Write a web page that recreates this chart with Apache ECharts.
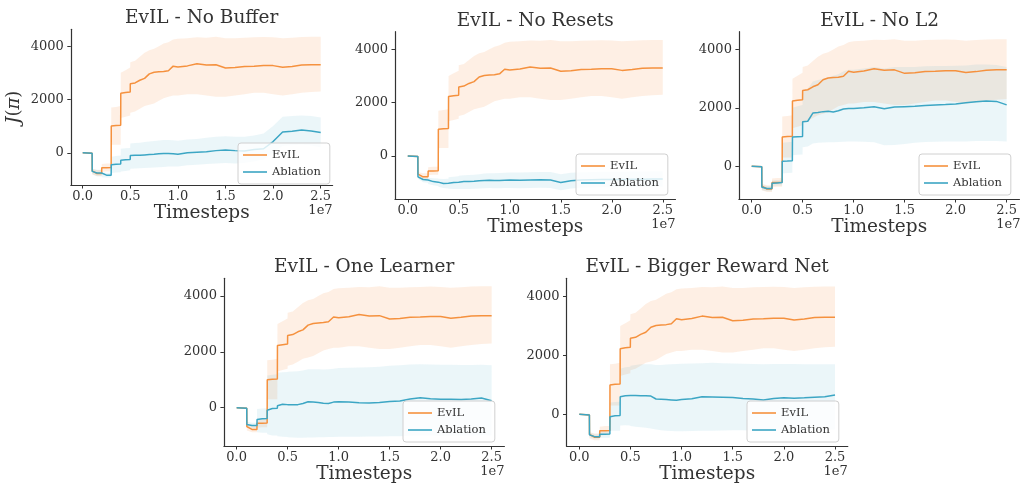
<!DOCTYPE html>
<html>
<head>
<meta charset="utf-8">
<script src="https://cdn.jsdelivr.net/npm/echarts@6/dist/echarts.min.js"></script>
<style>
html,body{margin:0;padding:0;background:#fff;}
#c{width:1020px;height:487px;}
</style>
</head>
<body>
<div id="c"></div>
<script>
// ---- data (timesteps in units of 1e7) ----
const T = [0,0.099,0.1,0.15,0.199,0.2,0.25,0.299,0.3,0.35,0.399,0.4,0.45,0.499,0.5,
  0.55,0.6,0.65,0.7,0.75,0.8,0.85,0.9,0.95,1.0,
  1.1,1.2,1.3,1.4,1.5,1.6,1.7,1.8,1.9,2.0,2.1,2.2,2.3,2.4,2.5];

const EVIL_MEAN = [0,-20,-680,-780,-780,-560,-560,-550,1000,1020,1030,2230,2260,2280,2590,
  2620,2720,2790,2960,3020,3040,3050,3080,3250,3220,
  3260,3340,3290,3300,3180,3200,3240,3250,3270,3270,3210,3240,3290,3300,3300];
const EVIL_LO = [0,-20,-820,-880,-880,-720,-700,-700,300,300,300,1300,1350,1400,1500,
  1550,1650,1750,1800,1850,1950,2050,2100,2150,2150,
  2200,2200,2150,2100,2100,2150,2200,2250,2250,2200,2150,2200,2250,2280,2300];
const EVIL_HI = [0,20,-600,-650,-650,-420,-400,-400,1700,1720,1750,3000,3100,3200,3400,
  3450,3600,3750,3850,3900,4000,4100,4150,4250,4280,
  4300,4330,4320,4350,4300,4300,4320,4330,4340,4330,4300,4320,4340,4350,4350];

// No Buffer
const NB_MEAN = [0,-20,-700,-760,-760,-830,-840,-840,-450,-430,-420,-280,-260,-250,-100,
  -90,-90,-80,-70,-60,-40,-30,-30,-40,-60,
  0,20,40,80,100,80,70,120,150,420,780,810,850,820,760];
const NB_LO = [0,-20,-800,-880,-880,-920,-930,-930,-760,-740,-730,-700,-680,-660,-600,
  -590,-580,-570,-560,-550,-540,-530,-520,-520,-520,
  -470,-450,-420,-400,-380,-400,-380,-330,-250,0,250,280,300,270,200];
const NB_HI = [0,20,-600,-640,-640,-740,-750,-750,-150,-120,-100,150,170,180,350,
  370,380,400,420,440,460,480,480,470,450,
  500,520,560,600,620,600,600,650,720,1000,1350,1380,1400,1380,1320];

// No Resets
const NR_MEAN = [0,-20,-780,-880,-900,-930,-960,-980,-1000,-1030,-1020,-1000,-990,-980,-970,
  -960,-960,-950,-930,-920,-910,-920,-920,-910,-900,
  -910,-900,-890,-900,-990,-930,-900,-890,-880,-880,-880,-870,-870,-860,-860];
const NR_LO = [0,-20,-850,-980,-1000,-1050,-1100,-1120,-1150,-1200,-1220,-1230,-1240,-1240,-1240,
  -1240,-1240,-1230,-1220,-1210,-1200,-1210,-1210,-1200,-1200,
  -1210,-1200,-1190,-1200,-1280,-1220,-1190,-1180,-1170,-1170,-1170,-1160,-1160,-1150,-1150];
const NR_HI = [0,20,-720,-800,-810,-820,-830,-840,-850,-860,-850,-800,-780,-760,-740,
  -720,-710,-700,-680,-660,-650,-650,-640,-630,-620,
  -620,-610,-600,-600,-680,-630,-610,-600,-590,-590,-590,-580,-580,-570,-570];

// No L2
const NL_MEAN = [0,-20,-720,-760,-760,-580,-570,-560,170,180,190,1000,1010,1020,1520,
  1540,1820,1840,1870,1880,1860,1900,1960,1980,1980,
  2000,2040,1970,2030,2040,2050,2080,2100,2110,2130,2170,2210,2230,2220,2100];
const NL_LO = [0,-20,-820,-860,-860,-680,-670,-660,-250,-230,-220,380,390,400,650,
  680,780,800,810,820,820,830,840,850,850,
  840,820,720,730,760,800,830,840,850,850,850,860,860,860,850];
const NL_HI = [0,20,-640,-680,-680,-480,-470,-460,800,820,840,2000,2050,2100,2600,
  2650,2900,2950,3000,3050,3100,3150,3250,3300,3300,
  3350,3400,3350,3400,3400,3400,3420,3430,3430,3440,3450,3480,3480,3470,3400];

// One Learner
const OL_MEAN = [0,-20,-600,-640,-640,-420,-400,-390,-90,-30,-20,70,120,110,100,
  110,110,150,210,200,190,160,150,200,210,
  200,180,170,190,220,240,310,360,320,300,300,290,310,350,250];
const OL_LO = [0,-20,-700,-740,-740,-880,-900,-900,-950,-1000,-1000,-1020,-1040,-1050,-1060,
  -1070,-1080,-1080,-1070,-1070,-1060,-1060,-1050,-1050,-1040,
  -1040,-1040,-1030,-1030,-1020,-1020,-1010,-1000,-1000,-1010,-1010,-1000,-1000,-990,-1000];
const OL_HI = [0,20,-500,-540,-540,-50,-30,-20,1150,1180,1200,1250,1270,1280,1290,
  1300,1310,1330,1380,1380,1380,1370,1380,1400,1420,
  1430,1440,1450,1470,1500,1520,1550,1560,1550,1540,1540,1530,1530,1540,1520];

// Bigger Reward Net
const BR_MEAN = [0,-20,-700,-760,-760,-680,-680,-670,-80,-50,-40,600,630,640,640,
  640,630,630,620,520,510,500,490,480,500,
  530,600,590,580,570,540,520,490,540,560,550,560,580,600,660];
const BR_LO = [0,-20,-780,-820,-820,-800,-800,-800,-560,-560,-560,-380,-370,-380,-400,
  -420,-440,-460,-480,-520,-540,-560,-570,-580,-580,
  -570,-560,-560,-550,-540,-540,-550,-560,-550,-540,-540,-530,-530,-530,-520];
const BR_HI = [0,20,-620,-680,-680,-560,-560,-550,400,420,430,1550,1600,1620,1650,
  1680,1700,1700,1700,1680,1680,1690,1700,1710,1720,
  1730,1740,1750,1740,1730,1720,1710,1700,1710,1710,1710,1700,1700,1700,1700];

const TITLES = ['EvIL - No Buffer','EvIL - No Resets','EvIL - No L2','EvIL - One Learner','EvIL - Bigger Reward Net'];
const SERIES_NAMES = ['EvIL','Ablation'];
const X_TICKS = [0,0.5,1,1.5,2,2.5];
const Y_TICKS = [0,2000,4000];
const ABLATIONS = [
  [NB_MEAN,NB_LO,NB_HI],[NR_MEAN,NR_LO,NR_HI],[NL_MEAN,NL_LO,NL_HI],[OL_MEAN,OL_LO,OL_HI],[BR_MEAN,BR_LO,BR_HI]
];

// ---- layout / style ----
const LAYOUT = [
  {left:70.8, top:29.3, width:261.8, height:155.7, ymin:-1210, ymax:4633, leg:[238,143]},
  {left:395,  top:31.7, width:280.5, height:167.3, ymin:-1612, ymax:4660, leg:[576,154]},
  {left:738.9,top:31.7, width:281.6, height:167.3, ymin:-1122, ymax:4607, leg:[919,154]},
  {left:223.9,top:278.3,width:280.5, height:167.7, ymin:-1373, ymax:4638, leg:[403,401]},
  {left:566.5,top:278.3,width:281.3, height:167.7, ymin:-1078, ymax:4626, leg:[747,401]}
];
const FONT = "'DejaVu Serif', serif";
const TXT = '#333';
const ORANGE = '#f5913e';
const BLUE = '#3ca6c4';
const ORANGE_BAND = 'rgba(245,145,62,0.14)';
const BLUE_BAND = 'rgba(60,165,195,0.10)';
const XMIN = -0.125, XMAX = 2.625;

const pairs = (vals) => T.map((t,i)=>[t, vals[i]]);
const bandData = (lo, hi) => T.map((t,i)=>[t, lo[i], hi[i]]);

function bandRenderer(color, data) {
  return function (params, api) {
    if (params.dataIndex !== 0) return null;
    const top = [], bot = [];
    for (let i = 0; i < data.length; i++) {
      top.push(api.coord([data[i][0], data[i][2]]));
      bot.push(api.coord([data[i][0], data[i][1]]));
    }
    const pts = top.concat(bot.reverse());
    return {type:'polygon', shape:{points:pts}, style:{fill:color, stroke:null}, silent:true};
  };
}

const grids=[], xAxes=[], yAxes=[], series=[], legends=[], graphics=[];

LAYOUT.forEach((L, p) => {
  grids.push({left:L.left, top:L.top, width:L.width, height:L.height, containLabel:false});
  xAxes.push({
    type:'value', gridIndex:p, min:XMIN, max:XMAX, splitLine:{show:false},
    axisLine:{show:true, onZero:false, lineStyle:{color:'#333', width:1.2}},
    axisTick:{show:true, length:3.5, lineStyle:{color:'#333', width:1}, customValues:X_TICKS},
    axisLabel:{customValues:X_TICKS, formatter:(v)=>Number(v).toFixed(1), fontFamily:FONT, fontSize:13, color:TXT, margin:5},
    name:'Timesteps', nameLocation:'middle', nameGap:19,
    nameTextStyle:{fontFamily:FONT, fontSize:18.5, color:TXT, verticalAlign:'top'}
  });
  const yA = {
    type:'value', gridIndex:p, min:L.ymin, max:L.ymax, splitLine:{show:false},
    axisLine:{show:true, onZero:false, lineStyle:{color:'#333', width:1.2}},
    axisTick:{show:true, length:3.5, lineStyle:{color:'#333', width:1}, customValues:Y_TICKS},
    axisLabel:{customValues:Y_TICKS, formatter:(v)=>String(Math.round(v)), fontFamily:FONT, fontSize:13, color:TXT, margin:7}
  };
  if (p === 0) {
    yA.name = '{i|J}({i|π})';
    yA.nameLocation = 'middle';
    yA.nameGap = 47;
    yA.nameTextStyle = {fontFamily:FONT, fontSize:18, color:TXT,
      rich:{i:{fontFamily:FONT, fontSize:18, fontStyle:'italic', color:TXT}}};
  }
  yAxes.push(yA);

  const A = ABLATIONS[p];
  const base = {xAxisIndex:p, yAxisIndex:p, silent:true, animation:false};
  const eb = bandData(EVIL_LO, EVIL_HI);
  const ab = bandData(A[1], A[2]);
  series.push(Object.assign({}, base, {type:'custom', name:'evil_band_'+p, data:eb,
    encode:{x:0, y:[1,2]}, renderItem:bandRenderer(ORANGE_BAND, eb), z:1}));
  series.push(Object.assign({}, base, {type:'custom', name:'abl_band_'+p, data:ab,
    encode:{x:0, y:[1,2]}, renderItem:bandRenderer(BLUE_BAND, ab), z:1}));
  series.push(Object.assign({}, base, {type:'line', symbol:'none', showSymbol:false, name:SERIES_NAMES[0], data:pairs(EVIL_MEAN), color:ORANGE, itemStyle:{color:ORANGE}, lineStyle:{color:ORANGE, width:1.5}, z:3}));
  series.push(Object.assign({}, base, {type:'line', symbol:'none', showSymbol:false, name:SERIES_NAMES[1], data:pairs(A[0]), color:BLUE, itemStyle:{color:BLUE}, lineStyle:{color:BLUE, width:1.5}, z:4}));

  legends.push({
    data:SERIES_NAMES, left:L.leg[0], top:L.leg[1], orient:'vertical',
    icon:'rect', itemWidth:24, itemHeight:1.6, itemGap:5,
    padding:[6,9,6,5],
    backgroundColor:'rgba(255,255,255,0.8)', borderColor:'#d0d0d0', borderWidth:1, borderRadius:3,
    textStyle:{fontFamily:FONT, fontSize:11.5, color:TXT, lineHeight:12},
    selectedMode:false, z:10
  });

  graphics.push({type:'text', x:L.left + L.width/2, y:L.top - 11, silent:true,
    style:{text:TITLES[p], fontFamily:FONT, fontSize:18.5, fill:TXT, textAlign:'center', textVerticalAlign:'middle'}});
  graphics.push({type:'text', x:L.left + L.width, y:L.top + L.height + 26, silent:true,
    style:{text:'1e7', fontFamily:FONT, fontSize:13, fill:TXT, textAlign:'right', textVerticalAlign:'middle'}});
});

const chart = echarts.init(document.getElementById('c'), null, {renderer:'canvas'});
chart.setOption({
  animation:false,
  backgroundColor:'#fff',
  grid:grids, xAxis:xAxes, yAxis:yAxes, series:series, legend:legends,
  graphic:graphics
});
</script>
</body>
</html>
